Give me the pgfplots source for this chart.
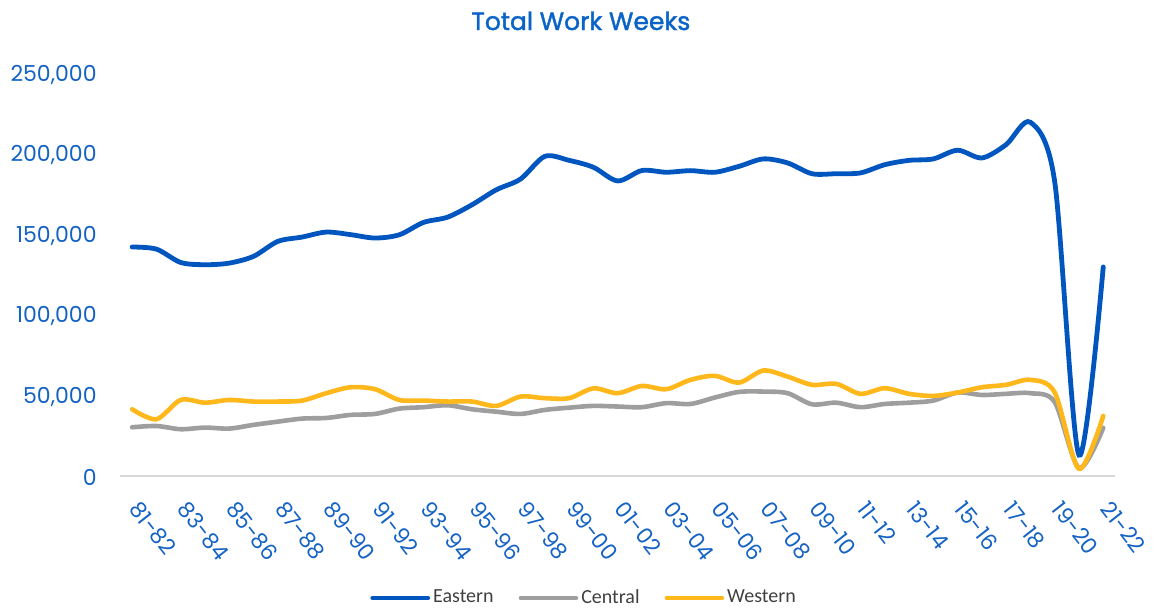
\documentclass[border=0pt]{standalone}
\usepackage{fontspec}
\setmainfont{Poppins}
\newfontfamily\legendfont{Carlito}
\newfontfamily\titlefont[BoldFont={Poppins},BoldFeatures={FakeBold=1.6}]{Poppins}
\usepackage{pgfplots}
\usepackage{pgfplotstable}
\pgfplotsset{compat=1.18}
\definecolor{eastern}{RGB}{0,86,190}
\definecolor{central}{RGB}{158,158,158}
\definecolor{western}{RGB}{255,184,28}
\definecolor{ticktext}{RGB}{20,98,196}
\definecolor{titletext}{RGB}{10,100,200}
\definecolor{legtext}{RGB}{64,64,64}
\definecolor{baseline}{RGB}{217,217,217}

\pgfplotstableread{
k east cent west
0 142400 30300 41500
1 141100 31100 35300
2 132800 29100 47300
3 131400 30100 45600
4 132400 29500 47300
5 136600 31800 46300
6 145900 33800 46300
7 148600 35700 46900
8 151700 36100 51500
9 150100 38000 55200
10 148000 38600 54000
11 150000 41900 47300
12 157700 42800 46900
13 161000 44000 46300
14 168700 41500 46300
15 178000 40000 43600
16 184700 38600 49400
17 198800 41100 48400
18 196300 42500 48400
19 192000 43600 54500
20 183500 43200 51500
21 190000 42800 56000
22 188900 45300 54000
23 189900 44800 59800
24 188900 48800 62300
25 192600 52300 58100
26 197200 52500 65600
27 194700 51500 61800
28 188000 44600 56700
29 188000 45600 57300
30 188500 42800 51100
31 193600 44800 54600
32 196300 45600 51100
33 197200 46900 49800
34 202600 51900 51900
35 197800 50400 55200
36 206100 51100 56700
37 220000 51500 59800
38 183000 46000 52000
39 13000 5000 4500
40 130000 30000 37400
}\datatable

\begin{document}
\begin{tikzpicture}
\useasboundingbox (0,0) rectangle (576.5pt,303.5pt);
\begin{axis}[
  at={(60pt,65.5pt)}, anchor=south west,
  scale only axis, width=497.7pt, height=201pt,
  xmin=-0.5, xmax=40.5, ymin=0, ymax=250000,
  axis x line*=bottom, axis y line*=left,
  x axis line style={draw=baseline, line width=0.8pt, -},
  y axis line style={draw=none},
  major tick length=0pt,
  xtick={0,2,...,40},
  xticklabels={81-82,83-84,85-86,87-88,89-90,91-92,93-94,95-96,97-98,99-00,01-02,03-04,05-06,07-08,09-10,11-12,13-14,15-16,17-18,19-20,21-22},
  ytick={0,50000,100000,150000,200000,250000},
  yticklabels={0,{50,000},{100,000},{150,000},{200,000},{250,000}},
  scaled y ticks=false,
  yticklabel style={font=\fontsize{11}{13}\selectfont, color=ticktext, anchor=east, inner sep=0pt, xshift=-11.5pt, yshift=-0.5pt},
  xticklabel style={font=\fontsize{11}{13}\selectfont, color=ticktext, inner sep=0pt, xshift=4.5pt, yshift=-11.5pt, rotate=-52, anchor=north west},
  title={Total Work Weeks},
  title style={font=\titlefont\bfseries\fontsize{12.5}{14}\selectfont, color=titletext, at={(axis description cs:0.463,1)}, anchor=base, yshift=16pt},
  legend columns=3,
  legend style={at={(axis description cs:0.4667,0)}, anchor=center, yshift=-61pt, draw=none, fill=none,
    font=\legendfont\fontsize{10}{12}\selectfont, text=legtext, inner sep=0pt,
    nodes={inner sep=1.5pt},
    /tikz/every even column/.append style={column sep=11pt}},
  legend image code/.code={\draw[#1, line cap=round] (0pt,0pt) -- (27.5pt,0pt);},
]
\addplot[eastern, line width=2.4pt, smooth, line cap=round] table[x=k, y=east]{\datatable};
\addlegendentry{Eastern}
\addplot[central, line width=2.3pt, smooth, line cap=round] table[x=k, y=cent]{\datatable};
\addlegendentry{Central}
\addplot[western, line width=2.3pt, smooth, line cap=round] table[x=k, y=west]{\datatable};
\addlegendentry{Western}
\end{axis}
\end{tikzpicture}
\end{document}
